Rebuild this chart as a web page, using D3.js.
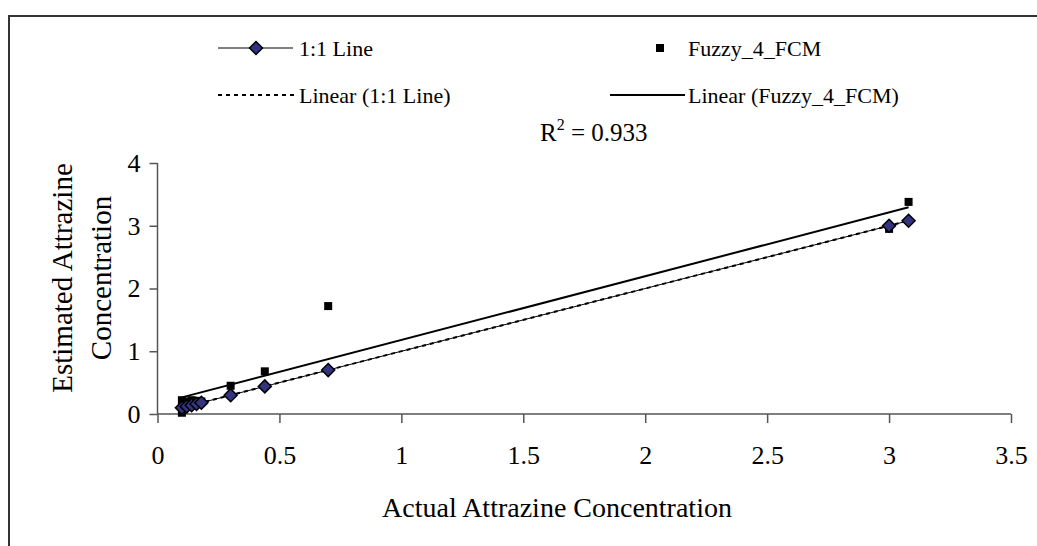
<!DOCTYPE html>
<html>
<head>
<meta charset="utf-8">
<script src="https://cdn.jsdelivr.net/npm/d3@7"></script>
<style>
  html, body { margin: 0; padding: 0; background: #fff; }
  svg text { font-family: "Liberation Serif", serif !important; fill: #000; }
</style>
</head>
<body>
<svg id="chart" width="1037" height="546" font-family="Liberation Serif, serif"></svg>
<script>
// ── Datos ────────────────────────────────────────────────────────
const oneToOneX = [0.1, 0.12, 0.14, 0.16, 0.18, 0.3, 0.44, 0.7, 3.0, 3.08];
const oneToOneY = [0.1, 0.12, 0.14, 0.16, 0.18, 0.3, 0.44, 0.7, 3.0, 3.08];
const fuzzyX = [0.1, 0.1, 0.12, 0.14, 0.16, 0.18, 0.3, 0.44, 0.7, 3.0, 3.08];
const fuzzyY = [0.02, 0.22, 0.2, 0.22, 0.21, 0.2, 0.45, 0.68, 1.72, 2.95, 3.38];
const xTicks = [0, 0.5, 1, 1.5, 2, 2.5, 3, 3.5];
const yTicks = [0, 1, 2, 3, 4];
const r2Label = "0.933";

// ── Escalas ──────────────────────────────────────────────────────
const svg = d3.select("#chart");
const x = d3.scaleLinear().domain([0, 3.5]).range([157.5, 1011]);
const y = d3.scaleLinear().domain([0, 4]).range([414, 163]);
const SERIF = "Liberation Serif, serif";

// marco exterior
svg.append("rect")
  .attr("x", 9).attr("y", 16).attr("width", 1060).attr("height", 560)
  .attr("fill", "none").attr("stroke", "#333").attr("stroke-width", 2);

// ── Ejes ─────────────────────────────────────────────────────────
const xAxis = svg.append("g").attr("transform", `translate(0,${y(0)})`)
  .call(d3.axisBottom(x).tickValues(xTicks).tickSize(9).tickPadding(23)
    .tickFormat(d => String(d)));
const yAxis = svg.append("g").attr("transform", `translate(${x(0)},0)`)
  .call(d3.axisLeft(y).tickValues(yTicks).tickSize(8).tickPadding(9)
    .tickFormat(d => String(d)));

[xAxis, yAxis].forEach(g => {
  g.attr("font-family", SERIF);
  g.select(".domain").attr("stroke", "#555").attr("stroke-width", 1.5);
  g.selectAll(".tick line").attr("stroke", "#555").attr("stroke-width", 1.5);
  g.selectAll(".tick text").attr("font-size", 26).attr("fill", "#000");
});
xAxis.select(".domain").attr("d", `M${x(0)},0H${x(3.5)}`);
yAxis.select(".domain").attr("d", `M0,${y(0)}V${y(4)}`);

// ── Títulos ──────────────────────────────────────────────────────
svg.append("text")
  .attr("x", 557).attr("y", 517)
  .attr("text-anchor", "middle").attr("font-size", 28)
  .text("Actual Attrazine Concentration");

const yt = svg.append("text")
  .attr("transform", `translate(72,278) rotate(-90)`)
  .attr("text-anchor", "middle").attr("font-size", 29);
yt.append("tspan").attr("x", 0).attr("dy", 0).text("Estimated Attrazine");
yt.append("tspan").attr("x", 0).attr("dy", 39).text("Concentration");

// ── Líneas de tendencia (mínimos cuadrados) ──────────────────────
function fit(xs, ys) {
  const mx = d3.mean(xs), my = d3.mean(ys);
  const sxy = d3.sum(xs, (v, i) => (v - mx) * (ys[i] - my));
  const sxx = d3.sum(xs, v => (v - mx) * (v - mx));
  const b = sxy / sxx;
  return { b, a: my - b * mx, x0: d3.min(xs), x1: d3.max(xs) };
}
const line = d3.line().x(d => x(d[0])).y(d => y(d[1]));
const ends = f => [[f.x0, f.a + f.b * f.x0], [f.x1, f.a + f.b * f.x1]];

const fitFuzzy = fit(fuzzyX, fuzzyY);
const fit11 = fit(oneToOneX, oneToOneY);

const pts11 = oneToOneX.map((v, i) => [v, oneToOneY[i]]);
svg.append("path").datum(pts11).attr("d", line)
  .attr("fill", "none").attr("stroke", "#000").attr("stroke-width", 1);

svg.append("path").datum(ends(fit11))
  .attr("d", line).attr("fill", "none").attr("stroke", "#000")
  .attr("stroke-width", 2).attr("stroke-dasharray", "4,4");

svg.append("path").datum(ends(fitFuzzy))
  .attr("d", line).attr("fill", "none").attr("stroke", "#000").attr("stroke-width", 2);

// ── Marcadores ───────────────────────────────────────────────────
const diamond = s => `M0,${-s}L${s},0L0,${s}L${-s},0Z`;

svg.append("g").selectAll("rect")
  .data(fuzzyX.map((v, i) => [v, fuzzyY[i]]))
  .join("rect")
  .attr("x", d => x(d[0]) - 4).attr("y", d => y(d[1]) - 4)
  .attr("width", 8).attr("height", 8).attr("fill", "#000");

svg.append("g").selectAll("path")
  .data(pts11)
  .join("path")
  .attr("transform", d => `translate(${x(d[0])},${y(d[1])})`)
  .attr("d", diamond(6.5))
  .attr("fill", "#333380").attr("stroke", "#000").attr("stroke-width", 1.5);

// ── Leyenda ──────────────────────────────────────────────────────
const lg = svg.append("g").attr("font-size", 22);
const row1 = 48, row2 = 95;
lg.append("line").attr("x1", 218).attr("x2", 293).attr("y1", row1).attr("y2", row1)
  .attr("stroke", "#000").attr("stroke-width", 1);
lg.append("path").attr("transform", `translate(256,${row1})`).attr("d", diamond(6.5))
  .attr("fill", "#333380").attr("stroke", "#000").attr("stroke-width", 1.5);
lg.append("text").attr("x", 299).attr("y", row1).attr("dy", "0.35em").text("1:1 Line");

lg.append("rect").attr("x", 656).attr("y", row1 - 4).attr("width", 8).attr("height", 8)
  .attr("fill", "#000");
lg.append("text").attr("x", 688).attr("y", row1).attr("dy", "0.35em").text("Fuzzy_4_FCM");

lg.append("line").attr("x1", 218).attr("x2", 294).attr("y1", row2).attr("y2", row2)
  .attr("stroke", "#000").attr("stroke-width", 2).attr("stroke-dasharray", "4,4");
lg.append("text").attr("x", 299).attr("y", row2).attr("dy", "0.35em").text("Linear (1:1 Line)");

lg.append("line").attr("x1", 610).attr("x2", 685).attr("y1", row2).attr("y2", row2)
  .attr("stroke", "#000").attr("stroke-width", 2);
lg.append("text").attr("x", 688).attr("y", row2).attr("dy", "0.35em").text("Linear (Fuzzy_4_FCM)");

// R²
const r2 = svg.append("text").attr("x", 540).attr("y", 141).attr("font-size", 25);
r2.append("tspan").text("R");
r2.append("tspan").attr("dy", -11).attr("font-size", 16).text("2");
r2.append("tspan").attr("dy", 11).text(" = " + r2Label);
</script>
</body>
</html>
